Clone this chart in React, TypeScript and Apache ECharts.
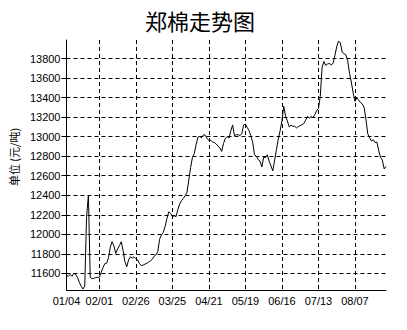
import React, { useEffect, useRef } from "react";
import * as echarts from "echarts";

const titleText = "郑棉走势图";
const yAxisName = "单位 (元/吨)";
const tickLabels = ["01/04", "02/01", "02/26", "03/25", "04/21", "05/19", "06/16", "07/13", "08/07"];
const tickIndices = [0, 18, 38, 58, 78, 98, 118, 138, 158];

const prices = [
  11580, 11570, 11590, 11570, 11600, 11590, 11560, 11510, 11470, 11440,
  11470, 12180, 12400, 11560, 11545, 11550, 11558, 11560, 11560, 11610,
  11660, 11700, 11705, 11760, 11870, 11924, 11880, 11805, 11850, 11885,
  11924, 11835, 11720, 11668, 11737, 11770, 11756, 11770, 11750, 11737,
  11700, 11680, 11685, 11695, 11703, 11715, 11728, 11745, 11775, 11790,
  11822, 11950, 11995, 12020, 12080, 12160, 12230, 12216, 12180, 12190,
  12181, 12255, 12310, 12345, 12368, 12395, 12430, 12558, 12685, 12790,
  12825, 12920, 12995, 13003, 12988, 13020, 13015, 12980, 12962, 12965,
  12945, 12941, 12925, 12903, 12886, 12849, 12930, 12983, 13000, 12986,
  13060, 13120, 13010, 13020, 13020, 13012, 13030, 13120, 13130, 13095,
  13060, 13010, 12940, 12815, 12800, 12765, 12750, 12690, 12790, 12785,
  12815, 12750, 12700, 12650, 12760, 12866, 12975, 13060, 13165, 13311,
  13210, 13160, 13100, 13118, 13106, 13106, 13090, 13104, 13113, 13123,
  13135, 13170, 13206, 13191, 13206, 13195, 13225, 13265, 13290, 13413,
  13710, 13770, 13730, 13745, 13750, 13735, 13750, 13830, 13920, 13980,
  13960, 13866, 13850, 13838, 13780, 13650, 13560, 13450, 13362, 13397,
  13375, 13350, 13335, 13300, 13180, 13030, 12990, 12955, 12969, 12940,
  12945, 12860, 12790, 12760, 12670, 12695,
];

const categories = prices.map((_, i) => {
  const k = tickIndices.indexOf(i);
  return k >= 0 ? tickLabels[k] : "";
});

export default function App() {
  const ref = useRef<HTMLDivElement>(null);
  useEffect(() => {
    document.body.style.margin = "0";
    if (!ref.current) return;
    const chart = echarts.init(ref.current, undefined, { renderer: "svg" });
    const dashed = { color: "#000", width: 1, type: [4, 3] as number[] };
    const isTick = (i: number) => tickIndices.indexOf(i) >= 0;
    chart.setOption({
      animation: false,
      backgroundColor: "#fff",
      title: {
        text: titleText,
        left: 140,
        top: 4,
        textStyle: {
          fontFamily: "Noto Sans CJK SC",
          fontSize: 22,
          fontWeight: "normal",
          color: "#000",
        },
      },
      grid: { left: 65, right: 21, top: 40, bottom: 40, containLabel: false },
      xAxis: {
        type: "category",
        data: categories,
        boundaryGap: false,
        axisLine: { lineStyle: { color: "#000", width: 1 } },
        axisTick: { show: false },
        axisLabel: {
          interval: (i: number) => isTick(i),
          color: "#000",
          fontSize: 11,
          fontFamily: "Liberation Sans",
          margin: 5,
        },
        splitLine: { show: true, interval: (i: number) => isTick(i), lineStyle: dashed },
      },
      yAxis: {
        type: "value",
        min: 11430,
        max: 13990,
        splitNumber: 12,
        minInterval: 200,
        maxInterval: 200,
        name: yAxisName,
        nameLocation: "middle",
        nameGap: 46,
        nameRotate: 90,
        nameTextStyle: { color: "#000", fontSize: 11, fontFamily: "Noto Sans CJK SC", padding: [0, 0, 0, 16] },
        axisLine: { show: true, lineStyle: { color: "#000", width: 1 } },
        axisTick: { show: true, length: 5, lineStyle: { color: "#000" } },
        axisLabel: {
          color: "#000",
          fontSize: 11,
          fontFamily: "Liberation Sans",
          margin: 6,
          showMinLabel: false,
          showMaxLabel: false,
          formatter: (v: number) => String(v),
        },
        splitLine: { show: true, showMinLine: false, showMaxLine: false, lineStyle: dashed },
      },
      series: [
        {
          type: "line",
          data: prices,
          showSymbol: false,
          symbol: "none",
          lineStyle: { color: "#000", width: 1 },
        },
      ],
    });
    return () => chart.dispose();
  }, []);
  return <div ref={ref} style={{ width: 407, height: 330 }} />;
}
